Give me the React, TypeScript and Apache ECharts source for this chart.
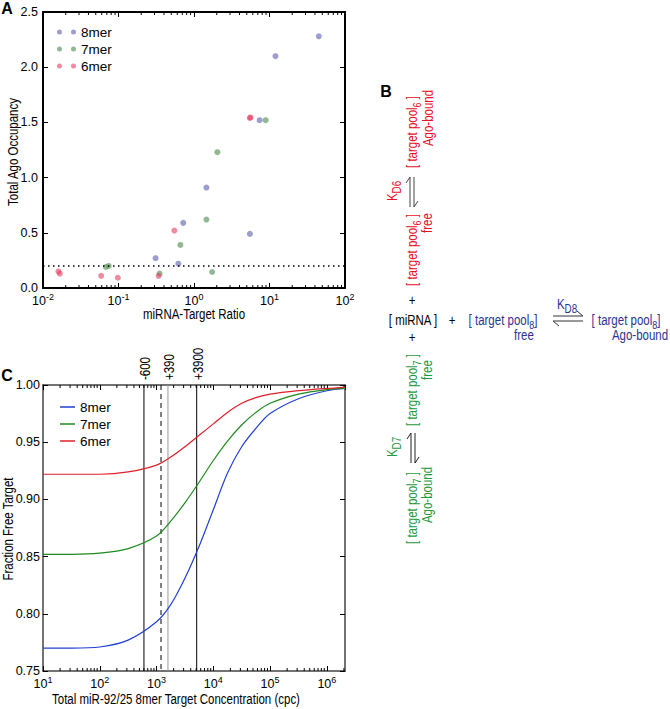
import React, { useEffect, useRef } from 'react';
import * as echarts from 'echarts';

const FONT = "'Liberation Sans', Arial, Helvetica, sans-serif";
const NARROW = 0.82;

// ---------- Panel A data ----------
const ratio8 = [12, 45, 7.4, 1.46, 0.72, 5.5, 0.31, 0.62];
const occ8 = [2.1, 2.28, 1.52, 0.91, 0.59, 0.49, 0.27, 0.22];
const ratio7 = [8.9, 2.04, 1.46, 0.66, 1.74, 0.068, 0.074, 0.35];
const occ7 = [1.52, 1.23, 0.62, 0.39, 0.145, 0.19, 0.2, 0.13];
const ratio6 = [5.5, 5.6, 0.55, 0.34, 0.016, 0.0167, 0.059, 0.098];
const occ6 = [1.54, 1.545, 0.52, 0.11, 0.15, 0.13, 0.11, 0.093];
const occThreshold = 0.2;
const aNames = ['8mer', '7mer', '6mer'];

// ---------- Panel C data ----------
const concC = [10, 32, 100, 316, 1000, 1780, 3160, 5620, 10000, 17800, 31600, 56200, 100000, 316000, 1000000, 2090000];
const free8 = [0.77, 0.77, 0.771, 0.777, 0.793, 0.808, 0.831, 0.859, 0.891, 0.923, 0.946, 0.962, 0.975, 0.988, 0.995, 0.997];
const free7 = [0.852, 0.852, 0.853, 0.857, 0.868, 0.881, 0.897, 0.915, 0.934, 0.951, 0.965, 0.976, 0.984, 0.992, 0.996, 0.997];
const free6 = [0.922, 0.922, 0.922, 0.924, 0.93, 0.937, 0.946, 0.956, 0.966, 0.976, 0.984, 0.989, 0.992, 0.995, 0.997, 0.998];
const cNames = ['8mer', '7mer', '6mer'];
const vlineConc = [600, 1200, 1590, 5100];
const vlineLabels = ['-600', '', '+390', '+3900'];

// styles
const vlineStroke = ['#000', '#000', '#999', '#000'];
const vlineDash: (number[] | null)[] = [null, [5, 4], null, null];
const aColors = ['rgba(110,110,185,0.85)', 'rgba(95,150,95,0.85)', 'rgba(228,60,95,0.75)'];
const cColors = ['#2040d0', '#1f8a1f', '#e0202a'];

const lg = (v: number) => Math.log10(v);
const isInt = (v: number) => Math.abs(v - Math.round(v)) < 1e-6;

function minorTicks(from: number, to: number, max: number) {
  const out: number[] = [];
  for (let n = from; n <= to; n++) {
    for (let k = 2; k <= 9; k++) {
      const v = n + Math.log10(k);
      if (v < max) out.push(v);
    }
  }
  return out;
}
const aMinor = minorTicks(-2, 1, 2);
const cMinor = minorTicks(1, 6, 6.32);

const supRich = { sup: { fontSize: 9, fontFamily: FONT, color: '#000', padding: [0, 0, 9, 0] } };
const logFmt = (v: number) => (isInt(v) ? `10{sup|${Math.round(v)}}` : '');
const labelBase = { fontFamily: FONT, fontSize: 12.5, color: '#000' };

function axisCommon(color: string, width: number) {
  return {
    axisLine: { show: true, onZero: false, lineStyle: { color, width } },
    axisTick: { show: true, inside: true, length: 5, lineStyle: { color: '#000', width: 1 } },
    splitLine: { show: false },
  };
}

function minorSeries(data: number[], axisIdx: number) {
  return {
    type: 'custom',
    xAxisIndex: axisIdx,
    yAxisIndex: axisIdx,
    silent: true,
    clip: false,
    data: data.map((v) => [v]),
    renderItem: (params: any, api: any) => {
      const cs = params.coordSys;
      const x = api.coord([api.value(0), 0])[0];
      const b = cs.y + cs.height;
      return {
        type: 'group',
        children: [
          { type: 'line', shape: { x1: x, y1: b, x2: x, y2: b - 3 }, style: { stroke: '#000', lineWidth: 1 } },
          { type: 'line', shape: { x1: x, y1: cs.y, x2: x, y2: cs.y + 3 }, style: { stroke: '#000', lineWidth: 1 } },
        ],
      };
    },
  };
}

const RED = '#e8102a';
const BLUE = '#2a3590';
const GREEN = '#1f9a3f';

function subRich(color: string, size: number, pad: number) {
  return { s: { fontSize: size, fontFamily: FONT, fill: color, padding: [pad, 0, 0, 0] } };
}
function txt(text: string, x: number, y: number, color: string, rotate: boolean, opts: any = {}) {
  return {
    type: 'text',
    x,
    y,
    rotation: rotate ? Math.PI / 2 : 0,
    scaleX: opts.bold ? 1 : NARROW,
    style: {
      text,
      fill: color,
      fontSize: opts.fontSize || 14,
      fontFamily: FONT,
      fontWeight: opts.bold ? 'bold' : 'normal',
      align: opts.align || 'center',
      verticalAlign: 'middle',
      rich: subRich(color, opts.sub || 11, opts.pad || 10),
    },
  };
}
function pl(points: number[][], color: string) {
  return { type: 'polyline', shape: { points }, style: { stroke: color, lineWidth: 1, fill: null } };
}

const graphics: any[] = [
  txt('A', 7, 8, '#000', false, { bold: true, fontSize: 16 }),
  txt('B', 386, 91, '#000', false, { bold: true, fontSize: 16 }),
  txt('C', 7, 375, '#000', false, { bold: true, fontSize: 16 }),
  // axis titles
  txt('miRNA-Target Ratio', 194, 314, '#000', false),
  txt('Total Ago Occupancy', 13, 152, '#000', true),
  txt('Total miR-92/25 8mer Target Concentration (cpc)', 176, 699, '#000', false),
  txt('Fraction Free Target', 8, 529, '#000', true),
  // red branch
  txt('[ target pool{s|6} ]', 412, 132, RED, true),
  txt('Ago-bound', 428, 118, RED, true),
  txt('K{s|D6}', 392, 191, RED, true, { sub: 12, pad: 10 }),
  pl([[410, 207], [410, 177], [406, 183]], '#444'),
  pl([[414, 177], [414, 207], [418, 201]], '#444'),
  txt('[ target pool{s|6} ]', 412, 250, RED, true),
  txt('free', 427, 223, RED, true),
  txt('+', 412, 300, '#000', false),
  // middle row
  txt('[ miRNA ]', 413, 320, '#000', false),
  txt('+', 452, 320, '#000', false),
  txt('[ target pool{s|8}]', 503, 320, BLUE, false),
  txt('free', 524, 335, BLUE, false),
  pl([[553, 316], [583, 316], [577, 311]], '#333'),
  pl([[583, 321], [553, 321], [559, 326]], '#333'),
  txt('K{s|D8}', 567, 304, BLUE, false, { sub: 12, pad: 10 }),
  txt('[ target pool{s|8}]', 626, 320, BLUE, false),
  txt('Ago-bound', 640, 335, BLUE, false),
  txt('+', 412, 337, '#000', false),
  // green branch
  txt('[ target pool{s|7} ]', 412, 390, GREEN, true),
  txt('free', 427, 370, GREEN, true),
  txt('K{s|D7}', 392, 447, GREEN, true, { sub: 12, pad: 10 }),
  pl([[411, 463], [411, 433], [407, 439]], '#222'),
  pl([[415, 433], [415, 463], [419, 457]], '#222'),
  txt('[ target pool{s|7} ]', 412, 508, GREEN, true),
  txt('Ago-bound', 427, 495, GREEN, true),
];

const aRatios = [ratio8, ratio7, ratio6];
const aOcc = [occ8, occ7, occ6];
const cFree = [free8, free7, free6];

const option: any = {
  animation: false,
  textStyle: { fontFamily: FONT },
  grid: [
    { left: 43, top: 12, width: 302, height: 276 },
    { left: 43, top: 385, width: 302, height: 286 },
  ],
  legend: [
    {
      data: aNames,
      orient: 'vertical',
      left: 52,
      top: 20,
      itemGap: 3,
      itemWidth: 19,
      itemHeight: 5,
      icon: 'path://M2.5,0A2.5,2.5,0,1,1,2.5,5A2.5,2.5,0,1,1,2.5,0ZM16.5,0A2.5,2.5,0,1,1,16.5,5A2.5,2.5,0,1,1,16.5,0Z',
      textStyle: { ...labelBase, fontSize: 13.5 },
      selectedMode: false,
    },
    {
      data: cNames.map((n) => 'C ' + n),
      orient: 'vertical',
      left: 55,
      top: 395,
      itemGap: 3,
      itemWidth: 15,
      itemHeight: 1.5,
      icon: 'rect',
      formatter: (n: string) => n.replace('C ', ''),
      textStyle: { ...labelBase, fontSize: 13.5 },
      selectedMode: false,
    },
  ],
  xAxis: [
    {
      gridIndex: 0, type: 'value', min: -2, max: 2, interval: 1, position: 'bottom',
      ...axisCommon('#000', 2),
      axisLabel: { ...labelBase, margin: 4, formatter: logFmt, rich: supRich },
    },
    {
      gridIndex: 0, type: 'value', min: -2, max: 2, interval: 1, position: 'top',
      ...axisCommon('#000', 2), axisLabel: { show: false },
    },
    {
      gridIndex: 1, type: 'value', min: 1, max: 6.32, interval: 1, position: 'bottom',
      ...axisCommon('#444', 1.5),
      axisLabel: { ...labelBase, margin: 4, formatter: logFmt, rich: supRich, showMaxLabel: false },
    },
    {
      gridIndex: 1, type: 'value', min: 1, max: 6.32, interval: 1, position: 'top',
      ...axisCommon('#444', 1.5), axisLabel: { show: false },
    },
  ],
  yAxis: [
    {
      gridIndex: 0, type: 'value', min: 0, max: 2.5, interval: 0.5, position: 'left',
      ...axisCommon('#000', 2),
      axisLabel: { ...labelBase, margin: 5, formatter: (v: number) => v.toFixed(1) },
    },
    {
      gridIndex: 0, type: 'value', min: 0, max: 2.5, interval: 0.5, position: 'right',
      ...axisCommon('#000', 2), axisLabel: { show: false },
    },
    {
      gridIndex: 1, type: 'value', min: 0.75, max: 1.0, interval: 0.05, position: 'left',
      ...axisCommon('#444', 1.5),
      axisLabel: { ...labelBase, margin: 3, formatter: (v: number) => v.toFixed(2) },
    },
    {
      gridIndex: 1, type: 'value', min: 0.75, max: 1.0, interval: 0.05, position: 'right',
      ...axisCommon('#444', 1.5), axisLabel: { show: false },
    },
  ],
  graphic: graphics,
  series: [
    minorSeries(aMinor, 0),
    minorSeries(cMinor, 2),
    ...aNames.map((name, i) => ({
      name,
      type: 'scatter',
      xAxisIndex: 0,
      yAxisIndex: 0,
      symbolSize: 6,
      itemStyle: { color: aColors[i] },
      data: aRatios[i].map((r, j) => [lg(r), aOcc[i][j]]),
      markLine:
        i === 0
          ? {
              silent: true,
              symbol: ['none', 'none'],
              label: { show: false },
              lineStyle: { color: '#000', width: 1.5, type: [1.5, 3.5] },
              data: [{ yAxis: occThreshold }],
            }
          : undefined,
    })),
    {
      type: 'custom',
      xAxisIndex: 2,
      yAxisIndex: 2,
      silent: true,
      clip: false,
      data: vlineConc.map((v) => [lg(v)]),
      renderItem: (params: any, api: any) => {
        const i = params.dataIndex;
        const cs = params.coordSys;
        const x = api.coord([api.value(0), 0.75])[0];
        const children: any[] = [
          {
            type: 'line',
            shape: { x1: x, y1: cs.y, x2: x, y2: cs.y + cs.height },
            style: { stroke: vlineStroke[i], lineWidth: 1, lineDash: vlineDash[i] || undefined },
          },
        ];
        if (vlineLabels[i]) {
          children.push({
            type: 'text',
            x: x + 1,
            y: cs.y - 5,
            rotation: Math.PI / 2,
            scaleX: NARROW,
            style: {
              text: vlineLabels[i], fill: '#000', fontSize: 14, fontFamily: FONT,
              align: 'left', verticalAlign: 'middle',
            },
          });
        }
        return { type: 'group', children };
      },
    },
    ...cNames.map((n, i) => ({
      name: 'C ' + n,
      type: 'line',
      xAxisIndex: 2,
      yAxisIndex: 2,
      symbol: 'none',
      smooth: 0.3,
      lineStyle: { color: cColors[i], width: 1.2 },
      itemStyle: { color: cColors[i] },
      data: concC.map((c, j) => [lg(c), cFree[i][j]]),
    })),
  ],
};

export default function App() {
  const ref = useRef<HTMLDivElement>(null);
  useEffect(() => {
    const chart = echarts.init(ref.current!, undefined, { renderer: 'svg' });
    chart.setOption(option);
    return () => chart.dispose();
  }, []);
  return (
    <div
      ref={ref}
      style={{ position: 'absolute', left: 0, top: 0, width: 670, height: 709, background: '#fff' }}
    />
  );
}
